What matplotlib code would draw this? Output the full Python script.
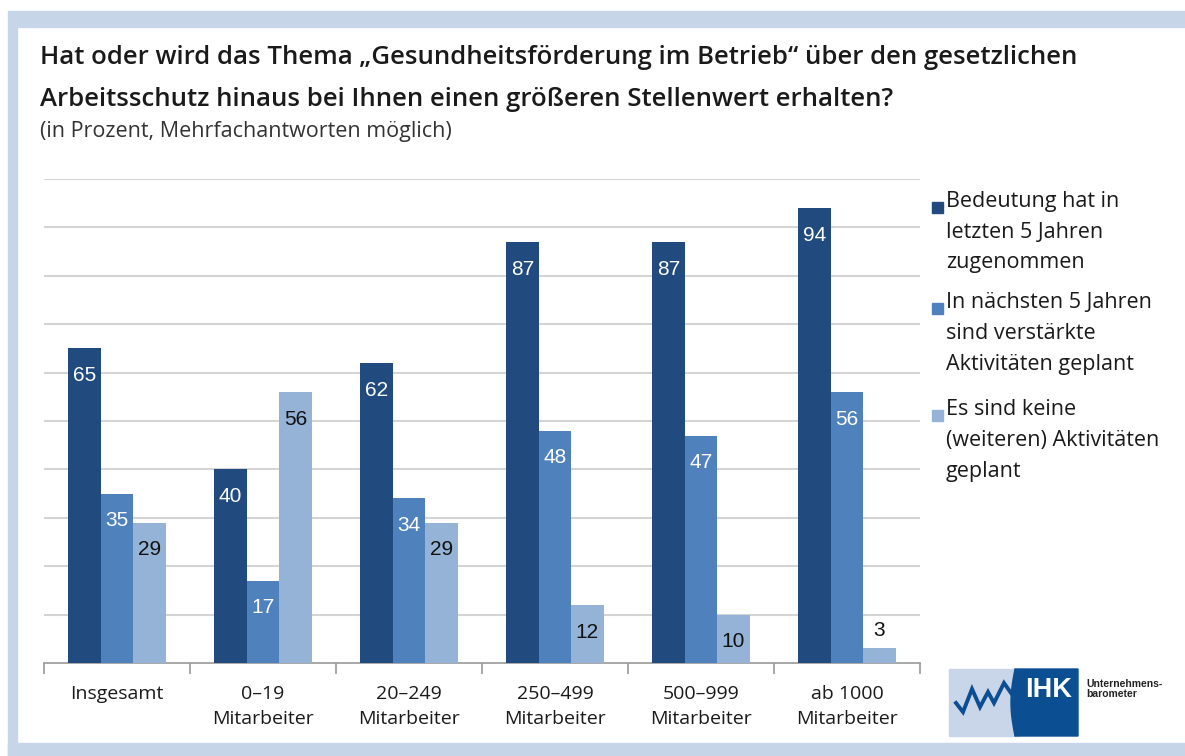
import numpy as np
import matplotlib.pyplot as plt
from matplotlib.patches import Rectangle, Polygon
from matplotlib.lines import Line2D

# Daten
kategorien = ["Insgesamt", "0–19\nMitarbeiter", "20–249\nMitarbeiter",
              "250–499\nMitarbeiter", "500–999\nMitarbeiter", "ab 1000\nMitarbeiter"]
zugenommen = [65, 40, 62, 87, 87, 94]
geplant = [35, 17, 34, 48, 47, 56]
keine = [29, 56, 29, 12, 10, 3]
serien_namen = [["Bedeutung hat in", "letzten 5 Jahren", "zugenommen"],
                ["In nächsten 5 Jahren", "sind verstärkte", "Aktivitäten geplant"],
                ["Es sind keine", "(weiteren) Aktivitäten", "geplant"]]
farben = ["#214a7e", "#4f81bd", "#95b3d7"]
text_farben = ["white", "white", "#111111"]

plt.rcParams['font.family'] = ['Open Sans', 'DejaVu Sans']

W, H = 1185, 756
fig = plt.figure(figsize=(W / 100, H / 100), dpi=100)

def fx(px):
    return px / W

def fy(py):
    return 1 - py / H

# Rahmen
rahmen = "#c6d5e7"
fig.patches.append(Rectangle((fx(8), fy(27)), fx(1185 - 8), 16 / H, transform=fig.transFigure, color=rahmen, zorder=0))
fig.patches.append(Rectangle((fx(8), 0), fx(9), fy(27), transform=fig.transFigure, color=rahmen, zorder=0))
fig.patches.append(Rectangle((fx(8), 0), fx(1185 - 8), 13 / H, transform=fig.transFigure, color=rahmen, zorder=0))

fig.text(fx(40), fy(58), "Hat oder wird das Thema „Gesundheitsförderung im Betrieb“ über den gesetzlichen",
         fontsize=18.5, fontweight='semibold', color="#1a1a1a", va='center')
fig.text(fx(40), fy(100), "Arbeitsschutz hinaus bei Ihnen einen größeren Stellenwert erhalten?",
         fontsize=18.5, fontweight='semibold', color="#1a1a1a", va='center')
fig.text(fx(40), fy(132), "(in Prozent, Mehrfachantworten möglich)",
         fontsize=15.5, color="#333333", va='center')

ax = fig.add_axes([fx(44), fy(663), fx(920 - 44), (663 - 179) / H])

x = np.arange(len(kategorien))
breite = 0.222
serien = [zugenommen, geplant, keine]
for i, werte in enumerate(serien):
    pos = x + (i - 1) * breite
    ax.bar(pos, werte, width=breite, color=farben[i], zorder=3)
    for p, v in zip(pos, werte):
        if v < 8:
            ax.text(p, v + 3.8, str(v), ha='center', va='center', fontsize=15,
                    family='Liberation Sans', color="#111111", zorder=4)
        else:
            ax.text(p, v - 5.6, str(v), ha='center', va='center', fontsize=15,
                    family='Liberation Sans', color=text_farben[i], zorder=4)

ax.set_xlim(-0.5, len(kategorien) - 0.5)
ax.set_ylim(0, 100)
ax.set_yticks(np.arange(10, 101, 10))
ax.yaxis.grid(True, color="#d4d4d4", linewidth=1.5, zorder=0)
ax.tick_params(axis='y', left=False, labelleft=False)
for s in ["top", "right", "left"]:
    ax.spines[s].set_visible(False)
ax.spines["bottom"].set_color("#9a9a9a")
ax.spines["bottom"].set_linewidth(1.2)
ax.set_xticks(x)
ax.set_xticklabels(kategorien, fontsize=14, color="#1a1a1a", linespacing=1.45)
ax.tick_params(axis='x', which='major', length=0, pad=16)
ax.set_xticks(np.arange(-0.5, len(kategorien)), minor=True)
ax.tick_params(axis='x', which='minor', length=8, width=1.2, color="#9a9a9a", direction='out')

# Legende (von Hand, Marker an erster Zeile)
basislinien = [[207, 238, 268], [308, 339, 370], [415, 446, 477]]
for farbe, zeilen, ys in zip(farben, serien_namen, basislinien):
    fig.patches.append(Rectangle((fx(932), fy(ys[0] + 6)), fx(11), 11 / H, transform=fig.transFigure,
                                 color=farbe, zorder=3))
    for zeile, yb in zip(zeilen, ys):
        fig.text(fx(946), fy(yb), zeile, fontsize=15.5, color="#1a1a1a", va='baseline')

# Logo
fig.patches.append(Rectangle((fx(949), fy(736)), fx(70), (736 - 669) / H, transform=fig.transFigure,
                             color="#c9d5e8", zorder=2))
kurve_y = np.linspace(669, 736, 20)
kurve_x = 1015 - 4 * np.sin((kurve_y - 669) / 67 * np.pi)
dunkel = [(fx(1078), fy(669)), (fx(1078), fy(736))] + [(fx(a), fy(b)) for a, b in zip(kurve_x[::-1], kurve_y[::-1])]
fig.patches.append(Polygon(dunkel, closed=True, transform=fig.transFigure, color="#0b4e92", zorder=3))
fig.text(fx(1049), fy(690), "IHK", fontsize=19.5, fontweight='bold', color="white", ha='center', va='center',
         family='Liberation Sans', zorder=4)
zz_x = [956, 963, 972, 980, 988, 994, 1004, 1011]
zz_y = [703, 712, 689, 707, 692, 703, 683, 693]
fig.lines.append(Line2D([fx(a) for a in zz_x], [fy(b) for b in zz_y], transform=fig.transFigure,
                        color="#0b4e92", linewidth=2.8, zorder=4, solid_joinstyle='miter'))
fig.text(fx(1086), fy(689), "Unternehmens-\nbarometer", fontsize=7.5, fontweight='bold', color="#222222",
         va='center', linespacing=1.0, family='Liberation Sans')

fig.savefig("out.png", dpi=100, facecolor="white")
